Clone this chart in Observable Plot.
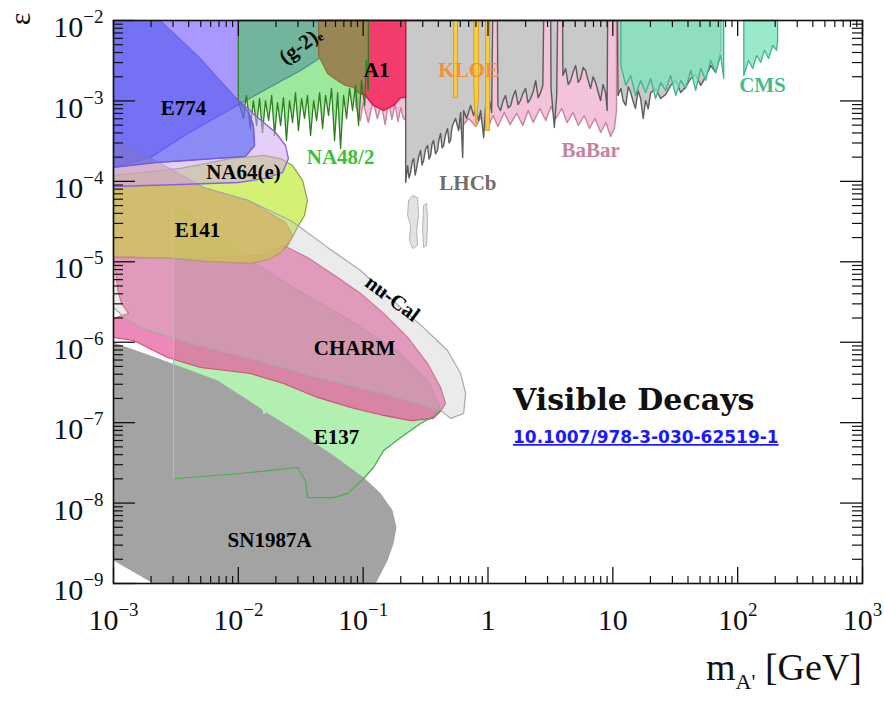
<!DOCTYPE html>
<html><head><meta charset="utf-8">
<script src="https://cdn.jsdelivr.net/npm/d3@7"></script>
<script src="https://cdn.jsdelivr.net/npm/@observablehq/plot@0.6"></script>
<style>body{margin:0;background:#fff;} #chart svg{display:block}</style>
</head><body><div id="chart"></div>
<script>
// ---------- axes ----------
const xTickValues = [1e-3, 1e-2, 1e-1, 1, 10, 1e2, 1e3];
const xTickLabels = ["10^\u22123", "10^\u22122", "10^\u22121", "1", "10", "10^2", "10^3"];
const yTickValues = [1e-9, 1e-8, 1e-7, 1e-6, 1e-5, 1e-4, 1e-3, 1e-2];
const yTickLabels = ["10^\u22129", "10^\u22128", "10^\u22127", "10^\u22126", "10^\u22125", "10^\u22124", "10^\u22123", "10^\u22122"];
const EPS_TOP = 1e-2;

// ---------- regions: [mass GeV, epsilon] ----------
const gm2 = [[1e-3,1e-2],[0.115,1e-2],[0.108,9.44e-3],[4.56e-2,3.47e-3],[3.15e-2,2.39e-3],[1.71e-2,1.43e-3],[9.16e-3,8.28e-4],[3.92e-3,3.94e-4],[1.98e-3,1.98e-4],[1e-3,1.49e-4]];
const e774 = [[1e-3,1e-2],[2.38e-3,1e-2],[4.98e-3,3.37e-3],[1e-2,1.01e-3],[1.21e-2,7.18e-4],[1.32e-2,4.95e-4],[1.35e-2,2.79e-4],[1.14e-2,2.04e-4],[4.98e-3,1.87e-4],[2.17e-3,1.71e-4],[1e-3,1.49e-4]];
const na64 = [[9.51e-3,1.10e-3],[1.37e-2,6.59e-4],[1.99e-2,4.05e-4],[2.39e-2,2.79e-4],[2.52e-2,1.92e-4],[2.26e-2,1.29e-4],[1.65e-2,1.09e-4],[1e-2,9.68e-5],[3.44e-3,9.14e-5],[1e-3,8.63e-5],[1e-3,1.49e-4],[2.17e-3,1.71e-4],[4.98e-3,1.87e-4],[1.14e-2,2.04e-4],[1.35e-2,2.79e-4],[1.32e-2,4.95e-4],[1.21e-2,7.18e-4]];
const orsay = [[1e-3,3.22e-4],[2.38e-3,1.67e-4],[5.26e-3,8.39e-5],[1.21e-2,5.78e-5],[2.39e-2,3.08e-5],[2.72e-2,2.12e-5],[2.52e-2,1.60e-5],[2.18e-2,1.30e-5],[1.75e-2,1.07e-5],[1.25e-2,9.53e-6],[5.46e-3,1.01e-5],[2.97e-3,1.10e-5],[1e-3,1.16e-5]];
const e141 = [[1e-3,1.18e-4],[3.44e-3,1.45e-4],[8.67e-3,1.92e-4],[1.59e-2,2.10e-4],[2.18e-2,1.92e-4],[2.72e-2,1.57e-4],[3.27e-2,1.03e-4],[3.58e-2,5.78e-5],[3.39e-2,3.77e-5],[3.03e-2,2.83e-5],[2.62e-2,1.84e-5],[2.18e-2,1.30e-5],[1.75e-2,1.07e-5],[1.25e-2,9.53e-6],[5.46e-3,1.01e-5],[2.97e-3,1.10e-5],[1e-3,1.16e-5]];
const nuCal = [[1e-3,3.22e-4],[2.38e-3,1.67e-4],[5.26e-3,8.39e-5],[1.21e-2,5.78e-5],[2.62e-2,3.26e-5],[3.15e-2,2.67e-5],[5.19e-2,1.51e-5],[9.53e-2,7.80e-6],[0.200,2.70e-6],[0.305,1.52e-6],[0.474,7.89e-7],[0.604,4.08e-7],[0.662,2.31e-7],[0.638,1.30e-7],[0.501,1.13e-7],[0.417,1.42e-7],[0.273,1.73e-7],[0.146,2.31e-7],[4.31e-2,3.64e-7],[1.25e-2,6.28e-7],[3.44e-3,1.05e-6],[1.64e-3,1.52e-6],[1.25e-3,1.97e-6],[1e-3,2.70e-6]];
const charm = [[1e-3,1.13e-5],[4.98e-3,1.10e-5],[1.51e-2,1.20e-5],[2.30e-2,1.60e-5],[3.58e-2,1.13e-5],[6.24e-2,6.38e-6],[9.53e-2,4.04e-6],[0.146,2.28e-6],[0.227,1.15e-6],[0.328,5.43e-7],[0.417,2.74e-7],[0.457,1.73e-7],[0.417,1.38e-7],[0.366,1.13e-7],[0.240,1.06e-7],[0.146,1.23e-7],[7.92e-2,1.54e-7],[4.31e-2,2.06e-7],[2.30e-2,3.07e-7],[1.25e-2,4.08e-7],[4.98e-3,4.85e-7],[2.71e-3,6.46e-7],[1.45e-3,1.05e-6],[1e-3,1.15e-6],[1e-3,1.97e-6],[1.32e-3,2.28e-6],[1.16e-3,3.03e-6],[1.08e-3,4.40e-6],[1.04e-3,7.80e-6]];
const e137 = [[3.03e-3,5.31e-5],[4.98e-3,3.08e-5],[1.25e-2,1.04e-5],[2.77e-2,4.79e-6],[7.92e-2,1.86e-6],[0.200,7.24e-7],[0.328,3.34e-7],[0.394,1.89e-7],[0.417,1.42e-7],[0.366,1.19e-7],[0.288,9.77e-8],[0.200,6.53e-8],[0.146,4.51e-8],[0.121,2.77e-8],[0.101,2.02e-8],[7.50e-2,1.32e-8],[5.79e-2,1.17e-8],[3.58e-2,1.17e-8],[3.45e-2,1.91e-8],[2.98e-2,2.77e-8],[1.04e-2,2.33e-8],[3.20e-3,2.02e-8],[3.03e-3,2.02e-8]];
const sn1987a = [[1e-3,9.91e-7],[1.98e-3,6.84e-7],[6.81e-3,3.34e-7],[1.56e-2,1.46e-7],[1.59e-2,1.26e-7],[1.68e-2,1.34e-7],[3.15e-2,7.33e-8],[5.79e-2,3.91e-8],[0.101,2.08e-8],[0.138,1.32e-8],[0.172,8.09e-9],[0.185,4.97e-9],[0.175,3.14e-9],[0.157,1.93e-9],[0.126,1e-9],[2.09e-3,1e-9],[1e-3,1.93e-9]];
const a1 = [[4.40e-2,1e-2],[0.219,1e-2],[0.219,1.10e-3],[0.200,1.10e-3],[0.175,8.77e-4],[0.146,7.60e-4],[0.121,8.77e-4],[0.104,1.17e-3],[9.18e-2,1.27e-3],[8.37e-2,1.47e-3],[7.23e-2,1.56e-3],[6.24e-2,1.79e-3],[5.19e-2,2.19e-3],[4.40e-2,3.67e-3]];

// noisy lower limits
const na48Limit = [[0.0100,1.01e-3],[0.0110,6.05e-4],[0.0116,1.17e-3],[0.0125,4.54e-4],[0.0132,1.01e-3],[0.0140,4.95e-4],[0.0148,1.07e-3],[0.0156,4.05e-4],[0.0165,1.01e-3],[0.0175,5.71e-4],[0.0185,1.17e-3],[0.0195,3.72e-4],[0.0206,9.55e-4],[0.0218,4.95e-4],[0.0230,1.10e-3],[0.0243,3.22e-4],[0.0257,1.01e-3],[0.0272,5.39e-4],[0.0287,1.27e-3],[0.0303,4.28e-4],[0.0321,1.07e-3],[0.0339,6.05e-4],[0.0358,1.17e-3],[0.0379,3.72e-4],[0.0401,1.01e-3],[0.0424,5.71e-4],[0.0448,1.27e-3],[0.0473,4.54e-4],[0.0500,1.17e-3],[0.0528,6.59e-4],[0.0558,1.43e-3],[0.0590,3.22e-4],[0.0624,1.27e-3],[0.0659,2.56e-4],[0.0697,1.17e-3],[0.0736,6.05e-4],[0.0778,1.43e-3],[0.0822,7.60e-4],[0.0869,1.56e-3],[0.0918,4.95e-4],[0.0970,1.79e-3],[0.103,8.77e-4],[0.106,3.18e-3],[0.110,1.35e-3]];
const babarLimit = [[0.087,8.77e-4],[0.095,5.71e-4],[0.10,9.55e-4],[0.11,5.39e-4],[0.12,1.01e-3],[0.13,6.05e-4],[0.14,9.03e-4],[0.15,5.09e-4],[0.16,9.84e-4],[0.17,5.88e-4],[0.18,9.29e-4],[0.19,5.55e-4],[0.20,8.28e-4],[0.21,6.05e-4],[0.22,5.71e-4],[0.3,5.39e-4],[0.4,5.71e-4],[0.5,4.95e-4],[0.55,7.18e-4],[0.6,4.54e-4],[0.7,6.05e-4],[0.8,4.81e-4],[0.9,6.78e-4],[1.0,4.67e-4],[1.1,6.59e-4],[1.2,4.81e-4],[1.35,7.18e-4],[1.5,5.09e-4],[1.7,6.98e-4],[1.9,4.95e-4],[2.1,7.60e-4],[2.3,5.39e-4],[2.6,8.05e-4],[2.9,5.71e-4],[3.2,8.53e-4],[3.5,6.05e-4],[3.9,8.05e-4],[4.3,5.39e-4],[4.8,7.18e-4],[5.3,4.95e-4],[5.9,6.59e-4],[6.5,4.54e-4],[7.2,6.05e-4],[8.0,4.05e-4],[8.8,5.39e-4],[9.6,3.61e-4],[10.3,4.54e-4],[10.7,7.60e-4]];
const lhcbLimit = [[0.219,9.68e-5],[0.227,1.57e-4],[0.233,1.10e-4],[0.240,1.29e-4],[0.247,1.75e-4],[0.254,1.92e-4],[0.261,1.20e-4],[0.268,1.45e-4],[0.278,2.00e-4],[0.288,2.42e-4],[0.296,1.60e-4],[0.305,1.82e-4],[0.316,2.50e-4],[0.328,2.79e-4],[0.337,1.90e-4],[0.347,2.10e-4],[0.356,2.90e-4],[0.366,3.22e-4],[0.380,2.20e-4],[0.394,2.42e-4],[0.405,3.30e-4],[0.417,3.94e-4],[0.429,2.60e-4],[0.441,2.79e-4],[0.457,3.80e-4],[0.474,4.54e-4],[0.488,3.00e-4],[0.501,3.22e-4],[0.51,4.20e-4],[0.52,4.95e-4],[0.55,6.05e-4],[0.581,4.28e-4],[0.604,7.18e-4],[0.627,1.98e-4],[0.638,7.60e-4],[0.674,6.05e-4],[0.726,8.77e-4],[0.767,6.59e-4],[0.80,8.05e-4],[0.841,5.71e-4],[0.873,7.60e-4],[0.923,3.51e-4],[0.957,8.77e-4],[1.03,1.01e-3],[1.07,7.18e-4],[1.09,1e-2],[1.19,1e-2],[1.20,8.77e-4],[1.26,7.60e-4],[1.32,1.00e-3],[1.38,1.17e-3],[1.45,8.20e-4],[1.52,8.77e-4],[1.59,1.15e-3],[1.66,1.35e-3],[1.74,9.00e-4],[1.82,1.01e-3],[1.91,1.25e-3],[2.00,1.43e-3],[2.09,9.50e-4],[2.19,1.07e-3],[2.30,1.30e-3],[2.41,1.79e-3],[2.52,1.10e-3],[2.64,1.27e-3],[2.75,1.56e-3],[2.79,1e-2],[3.18,1e-2],[3.20,1.43e-3],[3.40,4.67e-4],[3.55,1.17e-3],[3.61,1e-2],[3.96,1e-2],[3.98,2.07e-3],[4.19,2.53e-3],[4.39,1.60e-3],[4.59,1.79e-3],[4.81,2.30e-3],[5.04,2.75e-3],[5.28,1.70e-3],[5.52,1.90e-3],[5.78,2.60e-3],[6.05,2.39e-3],[6.34,1.80e-3],[6.64,1.43e-3],[6.95,2.00e-3],[7.28,1.69e-3],[7.62,1.30e-3],[7.98,1.01e-3],[8.35,1.60e-3],[8.75,1.27e-3],[9.0,7.60e-4],[9.08,1e-2],[10.9,1e-2],[11.0,1.17e-3],[11.6,1.43e-3],[12.1,1.00e-3],[12.7,8.77e-4],[13.3,1.50e-3],[13.9,1.27e-3],[14.5,1.00e-3],[15.2,8.05e-4],[15.9,1.35e-3],[16.7,1.07e-3],[17.5,6.05e-4],[18.3,1.01e-3],[19.2,8.00e-4],[20.1,1.27e-3],[22.1,1.40e-3],[24.2,1.07e-3],[26.5,1.20e-3],[29.0,1.56e-3],[31.9,1.80e-3],[35.0,1.27e-3],[38.4,1.50e-3],[42.1,1.90e-3],[46.1,2.10e-3],[50.6,1.56e-3],[55.4,2.00e-3],[60.8,2.75e-3],[66.7,2.25e-3],[73.1,4.24e-3]];
const cmsLimit1 = [[11.6,2.75e-3],[12.7,1.56e-3],[13.9,2.07e-3],[15.2,1.17e-3],[16.7,1.79e-3],[18.3,1.27e-3],[20.1,1.90e-3],[22.0,1.07e-3],[24.2,1.69e-3],[26.5,1.35e-3],[29.0,2.07e-3],[31.9,1.17e-3],[35.0,1.79e-3],[38.4,1.43e-3],[42.1,2.39e-3],[46.1,1.35e-3],[50.6,2.53e-3],[55.4,1.79e-3],[60.8,3.18e-3],[66.7,2.25e-3],[73.1,3.67e-3],[77.3,1.90e-3]];
const cmsLimit2 = [[112,2.07e-3],[122,3.18e-3],[132,2.53e-3],[142,3.67e-3],[153,3.01e-3],[164,4.24e-3],[177,3.37e-3],[191,4.89e-3],[205,4.24e-3],[209,5.64e-3]];
const kloe1 = [[0.530,1e-2],[0.530,1.10e-3],[0.570,1.10e-3],[0.570,1e-2]];
const kloe2 = [[0.77,1e-2],[0.77,1.5e-3],[0.79,6.0e-4],[0.81,5.0e-4],[0.84,1.2e-3],[0.84,1e-2]];
const kloe3 = [[0.957,1e-2],[0.957,4.3e-4],[1.03,4.3e-4],[1.03,1e-2]];
const lhcbDisp1 = [[0.231,5.78e-5],[0.249,6.67e-5],[0.273,6.30e-5],[0.278,3.77e-5],[0.268,2.45e-5],[0.273,1.60e-5],[0.249,1.46e-5],[0.235,1.84e-5],[0.240,2.83e-5],[0.227,3.77e-5]];
const lhcbDisp2 = [[0.305,5.01e-5],[0.322,5.31e-5],[0.328,3.26e-5],[0.322,1.60e-5],[0.305,1.51e-5],[0.299,2.45e-5]];

// labels
const labelText  = ["E774","NA64(e)","NA48/2","(g-2)\u2091","A1","KLOE","LHCb","BaBar","CMS","E141","nu-Cal","CHARM","E137","SN1987A"];
const labelMass  = [3.64e-3,1.10e-2,6.59e-2,3.15e-2,0.128,0.70,0.69,6.64,158,4.71e-3,0.172,8.53e-2,6.12e-2,1.78e-2];
const labelEps   = [8.05e-4,1.29e-4,1.98e-4,4.89e-3,2.39e-3,2.39e-3,9.40e-5,2.42e-4,1.56e-3,2.45e-5,3.50e-6,8.35e-7,6.53e-8,3.43e-9];
const labelColor = ["#000","#000","#3cbf3c","#000","#000","#f5903a","#6e6e6e","#c6819f","#3dbd8e","#000","#000","#000","#000","#000"];
const labelAngle = [0,0,0,-36,0,0,0,0,0,0,37,0,0,0];

// ---------- helpers ----------
const W = 884, H = 704, mL = 113, mR = 22, mT = 20, mB = 121;
const pw = W - mL - mR, ph = H - mT - mB;
const closeRing = a => a.concat([a[0]]);
const capTop = lim => [[lim[0][0], EPS_TOP], ...lim, [lim[lim.length - 1][0], EPS_TOP]];
const poly = (data, o) => Plot.line(closeRing(data), {x: d => d[0], y: d => d[1], curve: "linear", strokeLinejoin: "round", ...o});

const xMinor = [], yMinor = [];
for (const d of xTickValues.slice(0, -1)) for (let k = 2; k < 10; k++) xMinor.push(k * d);
for (const d of yTickValues.slice(0, -1)) for (let k = 2; k < 10; k++) yMinor.push(k * d);

const labels = labelText.map((t, i) => ({t, m: labelMass[i], e: labelEps[i], c: labelColor[i], r: labelAngle[i]}));
const SERIF = "'Liberation Serif', 'Times New Roman', serif";

const svg = Plot.plot({
  width: W, height: H, marginLeft: mL, marginRight: mR, marginTop: mT, marginBottom: mB,
  x: {type: "log", domain: [1e-3, 1e3], axis: null},
  y: {type: "log", domain: [1e-9, 1e-2], axis: null},
  style: {fontFamily: SERIF, background: "#fff"},
  marks: [
    poly(gm2, {fill: "#a898ff", stroke: "#4b4be6", strokeWidth: 1.2}),
    poly(capTop(babarLimit), {fill: "#f3c3dc", stroke: "#c8829f", strokeWidth: 1.4}),
    poly(capTop(lhcbLimit), {fill: "#c9c9c9", stroke: "#5c5c5c", strokeWidth: 1.4}),
    poly(kloe1, {fill: "#f6cd45", stroke: "#d9a21b", strokeWidth: 1}),
    poly(kloe2, {fill: "#f6cd45", stroke: "#d9a21b", strokeWidth: 1}),
    poly(kloe3, {fill: "#f6cd45", stroke: "#d9a21b", strokeWidth: 1}),
    poly(capTop(cmsLimit1), {fill: "#7fe3bd", fillOpacity: 0.8, stroke: "#3fb58a", strokeWidth: 1.3}),
    poly(capTop(cmsLimit2), {fill: "#7fe3bd", fillOpacity: 0.8, stroke: "#3fb58a", strokeWidth: 1.3}),
    poly(a1, {fill: "#f43c6c", stroke: "#d81040", strokeWidth: 1.3}),
    poly(capTop(na48Limit), {fill: "#3cd23c", fillOpacity: 0.5, stroke: "#2e7d1e", strokeWidth: 1.3}),
    poly(e137, {fill: "#b2f0b2", stroke: "#9a9a9a", strokeWidth: 0.8}),
    poly(charm, {fill: "#e65aa0", fillOpacity: 0.72, stroke: "#d84a7a", strokeWidth: 1.1}),
    poly(e141, {fill: "#cdee5a", fillOpacity: 0.85, stroke: "#8aa336", strokeWidth: 1.2}),
    poly(orsay, {fill: "#e07a10", fillOpacity: 0.45, stroke: "#b88070", strokeWidth: 0.8}),
    poly(nuCal, {fill: "#c2c2c2", fillOpacity: 0.32, stroke: "#a8a8a8", strokeWidth: 1.2}),
    poly(lhcbDisp1, {fill: "#e2e2e2", stroke: "#b5b5b5", strokeWidth: 1}),
    poly(lhcbDisp2, {fill: "#e2e2e2", stroke: "#b5b5b5", strokeWidth: 1}),
    poly(na64, {fill: "#cfa6f2", fillOpacity: 0.55, stroke: "#8a5ee6", strokeWidth: 1.3}),
    poly(e774, {fill: "#6464f2", fillOpacity: 0.75, stroke: "#6a5ae0", strokeWidth: 1}),
    poly(sn1987a, {fill: "#a3a3a3", stroke: "none"}),
    Plot.line(e137.slice(8), {x: d => d[0], y: d => d[1], stroke: "#4cae4c", strokeWidth: 1.2}),
    Plot.line([e137[e137.length - 1], e137[0]], {x: d => d[0], y: d => d[1], stroke: "#bdbdbd", strokeWidth: 1}),
    // frame + inward ticks
    Plot.frame({stroke: "#111", strokeWidth: 1.6}),
    Plot.tickX(xTickValues, {x: d => d, insetTop: ph - 16, stroke: "#111", strokeWidth: 1.3}),
    Plot.tickX(xTickValues, {x: d => d, insetBottom: ph - 16, stroke: "#111", strokeWidth: 1.3}),
    Plot.tickX(xMinor, {x: d => d, insetTop: ph - 7, stroke: "#111", strokeWidth: 1.2}),
    Plot.tickX(xMinor, {x: d => d, insetBottom: ph - 7, stroke: "#111", strokeWidth: 1.2}),
    Plot.tickY(yTickValues, {y: d => d, insetRight: pw - 22, stroke: "#111", strokeWidth: 1.3}),
    Plot.tickY(yTickValues, {y: d => d, insetLeft: pw - 22, stroke: "#111", strokeWidth: 1.3}),
    Plot.tickY(yMinor, {y: d => d, insetRight: pw - 10, stroke: "#111", strokeWidth: 1.2}),
    Plot.tickY(yMinor, {y: d => d, insetLeft: pw - 10, stroke: "#111", strokeWidth: 1.2}),
    // tick labels
    Plot.text(xTickValues, {x: d => d, text: (d, i) => xTickLabels[i], frameAnchor: "bottom", dy: 46, fontSize: 30, fill: "#111", fontFamily: SERIF}),
    Plot.text(yTickValues, {y: d => d, text: (d, i) => yTickLabels[i], frameAnchor: "left", textAnchor: "end", dx: -10, dy: 7, fontSize: 30, fill: "#111", fontFamily: SERIF}),
    // region labels
    Plot.text(labels, {x: "m", y: "e", text: "t", fill: d => d.c, rotate: "r", fontSize: 21, fontWeight: "bold", fontFamily: SERIF})
  ]
});

// superscripts on tick labels
const NS = "http://www.w3.org/2000/svg";
svg.querySelectorAll("text").forEach(t => {
  const m = t.textContent.match(/^10\^(.+)$/);
  if (m && t.children.length === 0) {
    t.textContent = "10";
    const s = document.createElementNS(NS, "tspan");
    s.setAttribute("dy", "-14");
    s.setAttribute("font-size", "19");
    s.textContent = m[1];
    t.appendChild(s);
  }
});
const root = d3.select(svg);
// axis titles
const xl = root.append("text").attr("x", 862).attr("y", 680).attr("text-anchor", "end")
  .attr("font-family", SERIF).attr("font-size", 38).attr("fill", "#111");
xl.append("tspan").text("m");
xl.append("tspan").attr("dy", 9).attr("font-size", 22).text("A'");
xl.append("tspan").attr("dy", -9).text(" [GeV]");
root.append("text").attr("transform", "translate(19,19) rotate(-90)").attr("text-anchor", "middle")
  .attr("dominant-baseline", "central").attr("font-family", SERIF).attr("font-size", 30).attr("fill", "#111").text("\u03b5");
// annotation
root.append("text").attr("x", 513).attr("y", 410).attr("text-anchor", "start").attr("font-family", "'DejaVu Serif', serif").attr("font-weight", "bold")
  .attr("font-size", 30).attr("fill", "#111").text("Visible Decays");
root.append("text").attr("x", 513).attr("y", 443).attr("text-anchor", "start").attr("font-family", "'DejaVu Sans', sans-serif").attr("font-weight", "bold")
  .attr("font-size", 17).attr("fill", "#1a1aff").attr("text-decoration", "underline").text("10.1007/978-3-030-62519-1");

document.getElementById("chart").appendChild(svg);
</script>
</body></html>
